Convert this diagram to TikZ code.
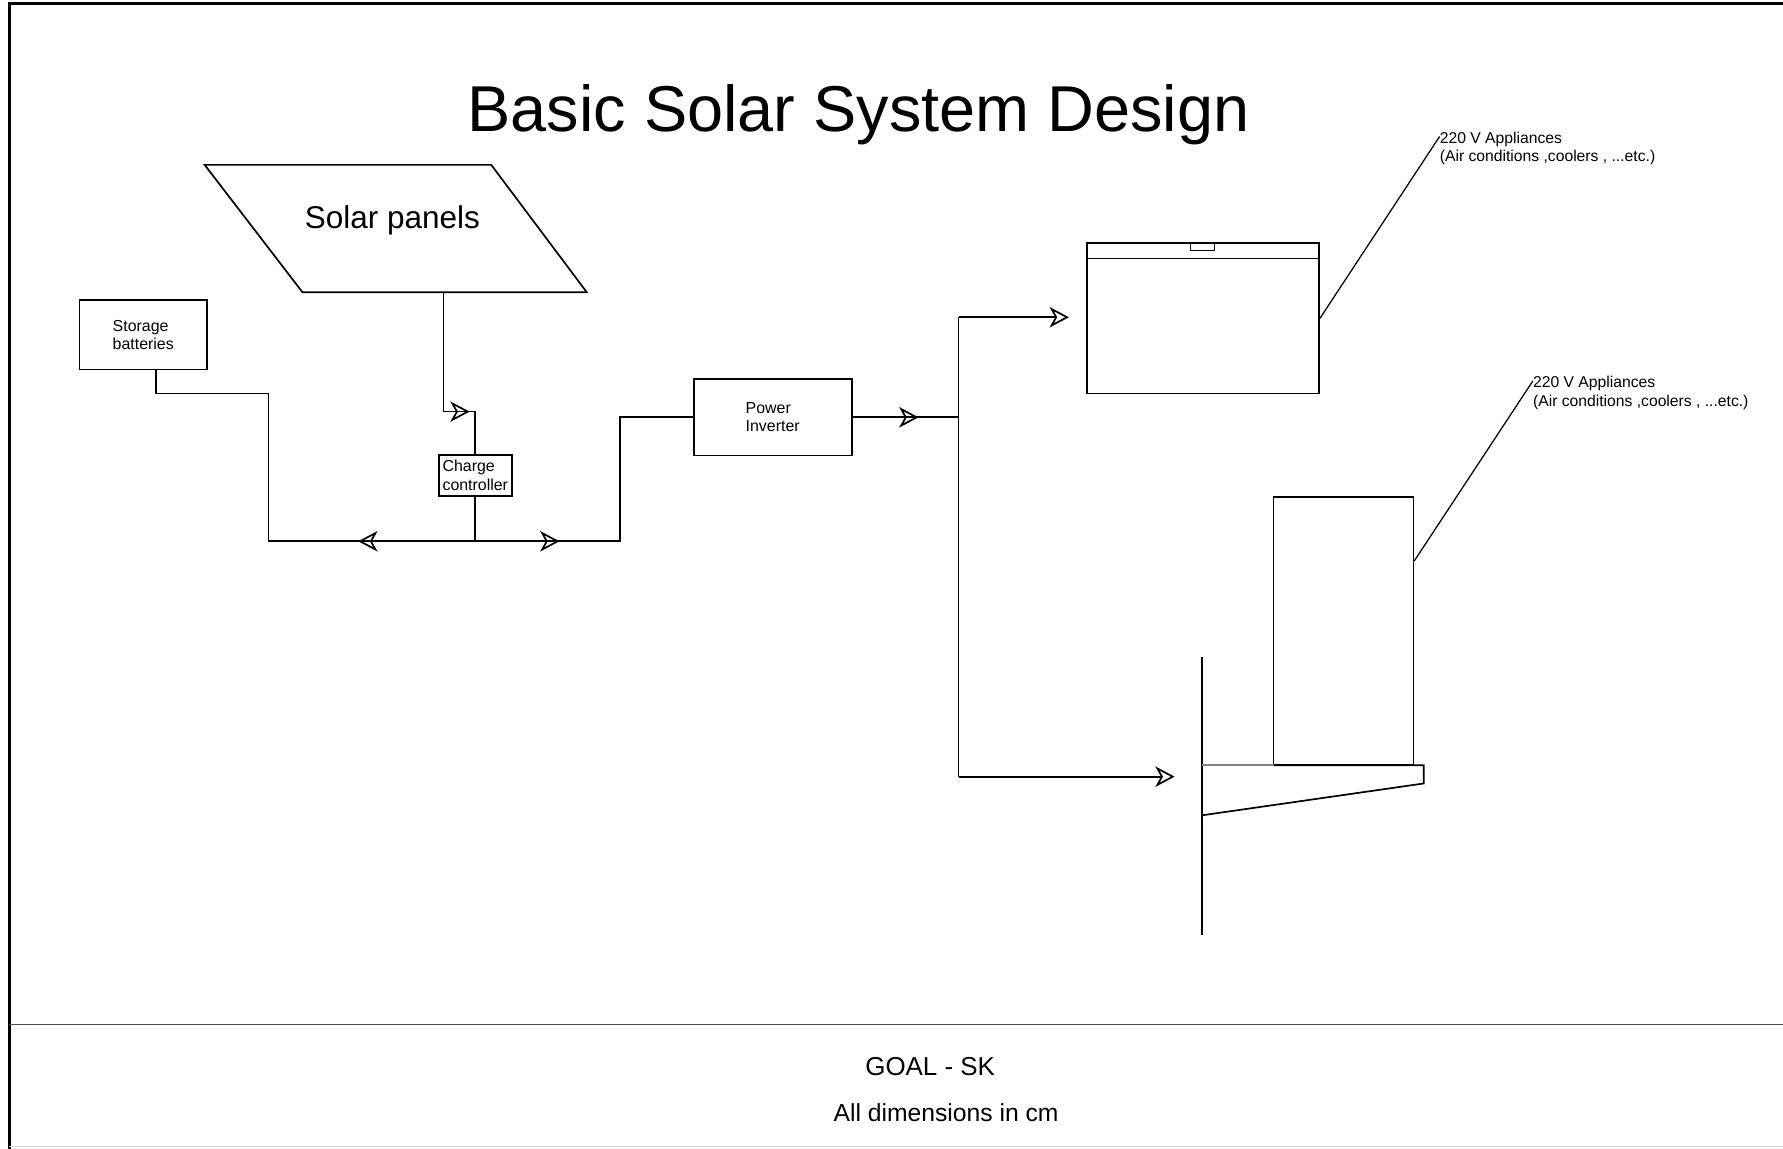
\documentclass[tikz,border=0pt]{standalone}
\usepackage{fontspec}
\setmainfont{Liberation Sans}
\usetikzlibrary{arrows.meta}
\usetikzlibrary{decorations.markings}

\tikzset{
  wire/.style={line width=1.5pt},
  box/.style={draw,line width=1.5pt,inner sep=0pt,align=left,font=\fontsize{14}{16}\selectfont},
  arr/.style={line width=1.5pt,-{Stealth[open,length=17pt,width=18pt,inset=5pt]}},
  lbl/.style={inner sep=0pt,align=left,anchor=north west,font=\fontsize{13.8}{16}\selectfont},
  fwd/.style={postaction={decorate,decoration={markings,
      mark=at position #1 with {\arrow{Stealth[open,length=17pt,width=18pt,inset=5pt]}}}}},
}

\begin{document}
\begin{tikzpicture}[x=1pt,y=-1pt]
  \useasboundingbox (0,0) rectangle (1568,1010);
  \draw[line width=2.5pt] (8,1015)--(8,3)--(1575,3);
  \draw[gray!30] (8,1008)--(1575,1008);
  \draw[line width=1.5pt,black!70] (8,901)--(1575,901);

  \node[anchor=base,font=\fontsize{57}{60}\selectfont] (title) at (755,116) {Basic Solar System Design};

  \draw[wire] (180,145)--++(252,0)--++(84,112)--++(-250,0)--cycle;
  \node[anchor=base,font=\fontsize{27.7}{30}\selectfont] (solar) at (345,201) {Solar panels};
  \coordinate (solarout) at (390,257);

  \node[box,minimum width=112pt,minimum height=61pt] (batt) at (126,294.5) {Storage\\batteries};
  \node[box,minimum width=64pt,minimum height=36pt] (cc) at (418,418) {Charge\\controller};
  \node[box,minimum width=139pt,minimum height=67pt] (inv) at (679.5,367) {Power\\Inverter};

  \coordinate (battout) at (137,325);
  \coordinate (b1) at (137,346);
  \coordinate (b2) at (236,346);
  \coordinate (b3) at (236,476);
  \coordinate (jn) at (418,476);
  \coordinate (b4) at (545,476);
  \coordinate (b5) at (545,367);
  \coordinate (s1) at (390,362);
  \coordinate (s2) at (418,362);
  \coordinate (bus1) at (843,367);
  \coordinate (bus2) at (843,279);
  \coordinate (bus3) at (843,683);
  \coordinate (acin) at (940,279);
  \coordinate (wallin) at (1033,683);

  \draw[wire,postaction={decorate,decoration={markings,
      mark=at position 329pt with {\arrowreversed{Stealth[open,length=17pt,width=18pt,inset=5pt]}},
      mark=at position 506pt with {\arrow{Stealth[open,length=17pt,width=18pt,inset=5pt]}}}}]
    (battout)--(b1)--(b2)--(b3)--(jn)--(b4)--(b5)--(inv.west);
  \draw[wire] (cc.south)--(jn);
  \draw[wire,fwd=128pt] (solarout)--(s1)--(s2)--(cc.north);
  \draw[wire,fwd=58pt] (inv.east)--(bus1);
  \draw[wire] (bus2)--(bus3);
  \draw[arr] (bus2)--(acin);
  \draw[arr] (bus3)--(wallin);

  % air conditioner
  \node[draw,line width=1.5pt,minimum width=204pt,minimum height=132pt] (ac) at (1058,280) {};
  \draw[wire] ([yshift=-14pt]ac.north west)--([yshift=-14pt]ac.north east);
  \draw[wire] ([xshift=-11pt]ac.north) rectangle ++(21,7);

  % fridge on wall bracket
  \node[draw,line width=1.5pt,minimum width=123pt,minimum height=236pt] (fridge) at (1181.5,555) {};
  \draw[wire] (1057,578)--(1057,822);
  \draw[wire] (1120,673)--(1252,673)--(1252,689)--(1057,717);
  \draw[wire,gray] (1057,673)--(1120,673);

  \node[lbl] (lab1) at (1266,116) {220 V Appliances\\(Air conditions ,coolers , ...etc.)};
  \node[lbl] (lab2) at (1348,331) {220 V Appliances\\(Air conditions ,coolers , ...etc.)};
  \draw[line width=1.1pt] (ac.east)--([yshift=-4pt]lab1.north west);
  \draw[line width=1.1pt] ([yshift=-57pt]fridge.north east)--([yshift=-4pt]lab2.north west);

  \node[font=\fontsize{22.8}{26}\selectfont,anchor=base] (goal) at (818,946) {GOAL - SK};
  \node[font=\fontsize{21.7}{26}\selectfont,anchor=base] (dims) at (832,986) {All dimensions in cm};
\end{tikzpicture}
\end{document}
